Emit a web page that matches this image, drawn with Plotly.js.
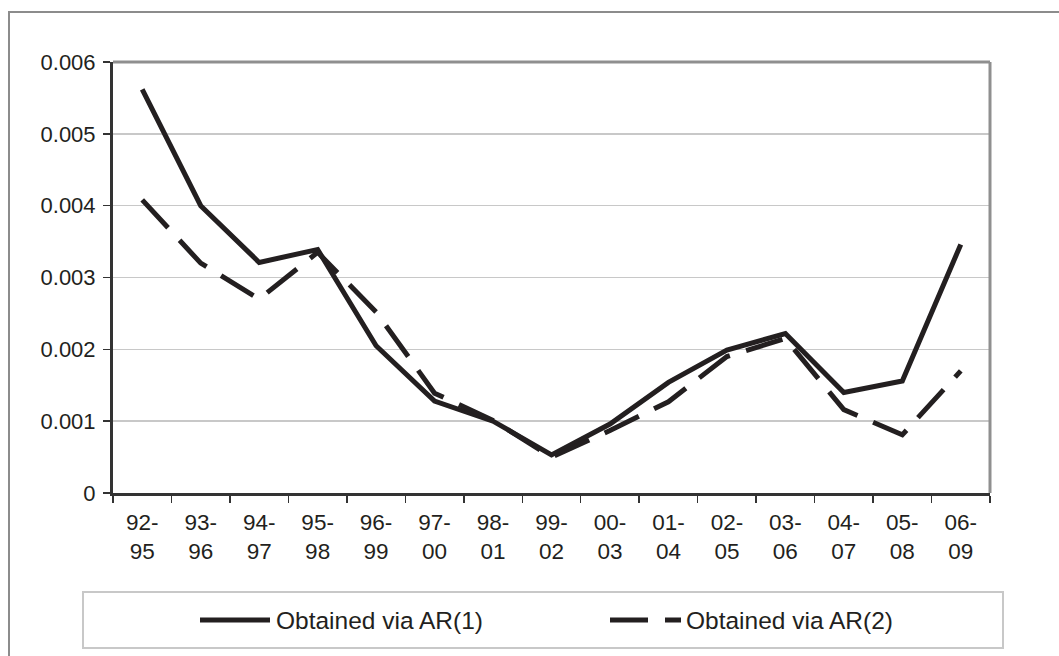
<!DOCTYPE html>
<html>
<head>
<meta charset="utf-8">
<script src="https://cdn.plot.ly/plotly-3.0.1.min.js"></script>
<style>
  html, body { margin: 0; padding: 0; background: #ffffff; }
  #chart { width: 1059px; height: 656px; }
</style>
</head>
<body>
<div id="chart"></div>
<script>
// ---- data ----
const categories = ['92-95', '93-96', '94-97', '95-98', '96-99', '97-00', '98-01', '99-02',
                    '00-03', '01-04', '02-05', '03-06', '04-07', '05-08', '06-09'];
const tickLabels = ['92-<br>95', '93-<br>96', '94-<br>97', '95-<br>98', '96-<br>99', '97-<br>00',
                    '98-<br>01', '99-<br>02', '00-<br>03', '01-<br>04', '02-<br>05', '03-<br>06',
                    '04-<br>07', '05-<br>08', '06-<br>09'];
const ar1Values = [0.00562, 0.00400, 0.00321, 0.00339, 0.00205, 0.00128, 0.00100, 0.00053,
                   0.00096, 0.00154, 0.00199, 0.00222, 0.00140, 0.00156, 0.00346];
const ar2Values = [0.00408, 0.00320, 0.00270, 0.00335, 0.00252, 0.00139, 0.00101, 0.00050,
                   0.00087, 0.00127, 0.00190, 0.00215, 0.00116, 0.00081, 0.00170];
const seriesNames = ['Obtained via AR(1)', 'Obtained via AR(2)'];
const yTicks = [0, 0.001, 0.002, 0.003, 0.004, 0.005, 0.006];
const yTickText = ['0', '0.001', '0.002', '0.003', '0.004', '0.005', '0.006'];

// ---- layout geometry (pixels) ----
const W = 1059, H = 656;
const L = 113, R = 990, T = 62, B = 493;
const px = x => (x - L) / (R - L);
const py = y => (B - y) / (B - T);

const FONT = 'Liberation Sans, Arial, sans-serif';
const INK = '#231f20';
const DASH = '38px,17px';

const traces = [
  {
    x: categories, y: ar1Values, name: seriesNames[0], type: 'scatter', mode: 'lines',
    line: { color: INK, width: 5, shape: 'linear' }, showlegend: false, cliponaxis: false
  },
  {
    x: categories, y: ar2Values, name: seriesNames[1], type: 'scatter', mode: 'lines',
    line: { color: INK, width: 5, dash: DASH }, showlegend: false, cliponaxis: false
  }
];

const legY = 620;
const shapes = [
  // outer chart frame
  { type: 'rect', xref: 'paper', yref: 'paper', x0: px(9), x1: px(1064), y0: py(12), y1: py(662),
    line: { color: '#8c8c8c', width: 2 }, layer: 'below' },
  // top + right plot border (grey)
  { type: 'line', xref: 'paper', yref: 'paper', x0: 0, x1: 1, y0: 1, y1: 1,
    line: { color: '#8f8f8f', width: 3 } },
  { type: 'line', xref: 'paper', yref: 'paper', x0: 1, x1: 1, y0: 0, y1: 1,
    line: { color: '#8f8f8f', width: 3 } },
  // legend box
  { type: 'rect', xref: 'paper', yref: 'paper', x0: px(83), x1: px(1003), y0: py(592), y1: py(648),
    line: { color: '#c8c8c8', width: 2 } },
  // legend samples
  { type: 'line', xref: 'paper', yref: 'paper', x0: px(200), x1: px(270), y0: py(legY), y1: py(legY),
    line: { color: INK, width: 5 } },
  { type: 'line', xref: 'paper', yref: 'paper', x0: px(610), x1: px(681), y0: py(legY), y1: py(legY),
    line: { color: INK, width: 5, dash: DASH } }
];

const annotations = [
  { xref: 'paper', yref: 'paper', x: px(274), y: py(legY), xanchor: 'left', yanchor: 'middle',
    text: seriesNames[0], showarrow: false, font: { family: FONT, size: 24.5, color: '#231f20' } },
  { xref: 'paper', yref: 'paper', x: px(684), y: py(legY), xanchor: 'left', yanchor: 'middle',
    text: seriesNames[1], showarrow: false, font: { family: FONT, size: 24.5, color: '#231f20' } }
];

const layout = {
  width: W, height: H, autosize: false,
  margin: { l: L, r: W - R, t: T, b: H - B, pad: 0 },
  paper_bgcolor: '#ffffff', plot_bgcolor: '#ffffff',
  showlegend: false,
  font: { family: FONT, color: '#231f20' },
  xaxis: {
    type: 'category', categoryorder: 'array', categoryarray: categories,
    tickmode: 'array', tickvals: categories, ticktext: tickLabels,
    range: [-0.5, categories.length - 0.5],
    tickson: 'boundaries', ticks: 'outside', ticklen: 7, tickwidth: 1.5, tickcolor: '#333333',
    showline: true, linecolor: '#333333', linewidth: 3,
    showgrid: false, zeroline: false,
    tickfont: { family: FONT, size: 22.5, color: '#231f20' },
    ticklabelstandoff: 7, fixedrange: true
  },
  yaxis: {
    range: [0, 0.006], tickmode: 'array', tickvals: yTicks, ticktext: yTickText,
    ticks: 'outside', ticklen: 7, tickwidth: 1.5, tickcolor: '#333333',
    showline: true, linecolor: '#333333', linewidth: 3,
    showgrid: true, gridcolor: '#c8c8c8', gridwidth: 1.5,
    zeroline: false,
    tickfont: { family: FONT, size: 22, color: '#231f20' },
    ticklabelstandoff: 3, fixedrange: true
  },
  shapes: shapes,
  annotations: annotations
};

Plotly.newPlot('chart', traces, layout, { staticPlot: true, displayModeBar: false });
</script>
</body>
</html>
